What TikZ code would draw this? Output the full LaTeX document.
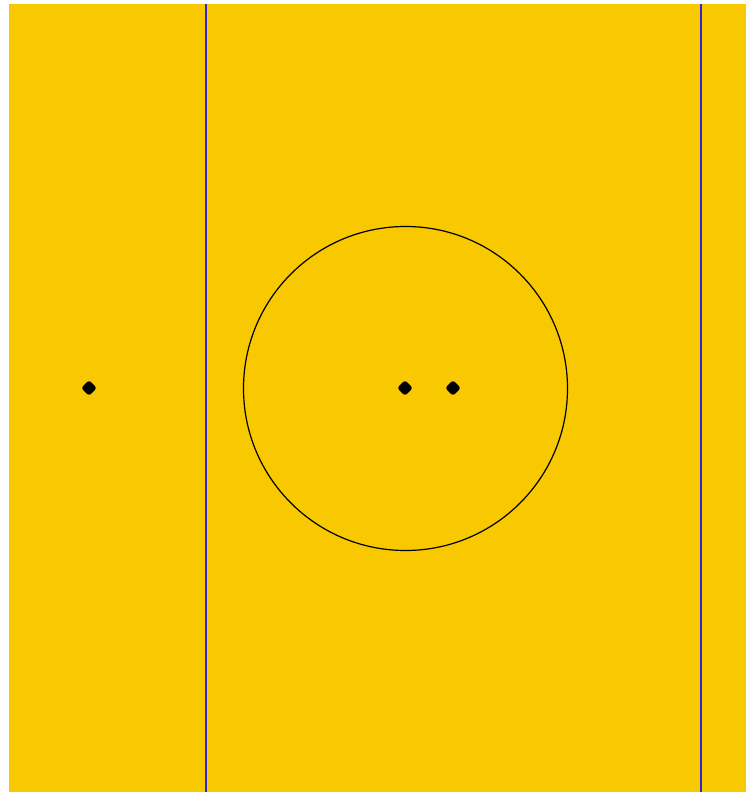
\documentclass[tikz,border=0pt]{standalone}
\definecolor{bgyellow}{RGB}{248,200,0}
\definecolor{lineblue}{RGB}{50,40,200}
\begin{document}
\begin{tikzpicture}[x=1pt,y=1pt,
  dot/.style={rectangle,rotate=45,fill=black,rounded corners=2.5pt,inner sep=0pt,minimum size=11pt},
  vline/.style={draw=lineblue,line width=1.8pt}]
\useasboundingbox (0,0) rectangle (746,792);
\fill[white] (0,0) rectangle (746,792);
\fill[bgyellow] (9,0) rectangle (746,788);
\coordinate (a1) at (206,0);
\coordinate (a2) at (206,788);
\coordinate (b1) at (701,0);
\coordinate (b2) at (701,788);
\draw[vline] (a1) -- (a2);
\draw[vline] (b1) -- (b2);
\node[circle,draw=black,line width=1.2pt,minimum size=324pt,inner sep=0pt] (c) at (405.5,403.5) {};
\node[dot] (d1) at (89,404) {};
\node[dot] (d2) at (405,404) {};
\node[dot] (d3) at (453,404) {};
\end{tikzpicture}
\end{document}
